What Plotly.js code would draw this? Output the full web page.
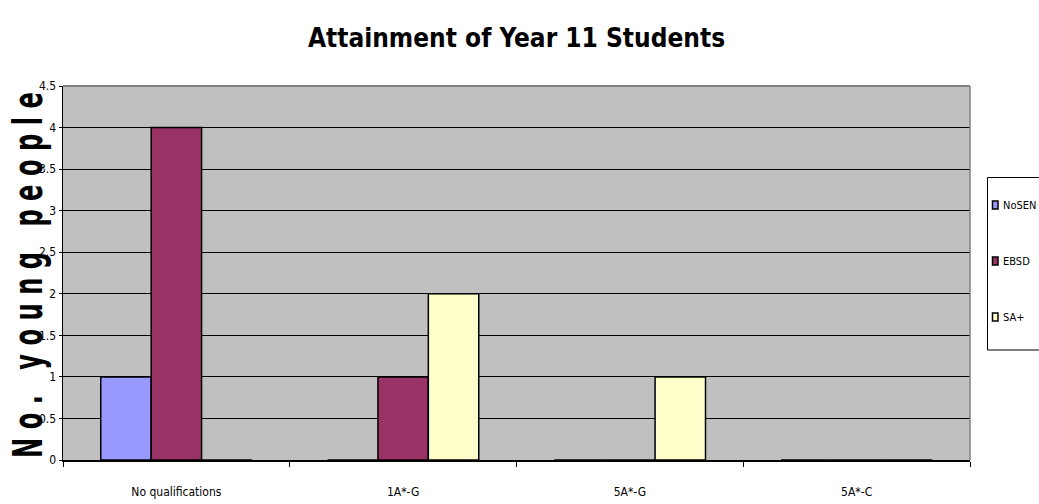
<!DOCTYPE html>
<html>
<head>
<meta charset="utf-8">
<script src="https://cdn.plot.ly/plotly-3.0.1.min.js"></script>
<style>
  html, body { margin: 0; padding: 0; background: #ffffff; overflow: hidden; }
  #chart { width: 1039px; height: 504px; }
</style>
</head>
<body>
<div id="chart"></div>
<script>
// Year 11 attainment by SEN group
const categories = ["No qualifications", "1A*-G", "5A*-G", "5A*-C"];
const noSen = [1, 0, 0, 0];
const ebsd = [4, 1, 0, 0];
const saPlus = [0, 2, 1, 0];
const seriesNames = ["NoSEN", "EBSD", "SA+"];
const seriesColors = ["#9999FF", "#993366", "#FFFFCC"];
const yTicks = [0, 0.5, 1, 1.5, 2, 2.5, 3, 3.5, 4, 4.5];

const FONT = '"DejaVu Sans Condensed", "Liberation Sans Narrow", "Arial Narrow", sans-serif';

// Plot-area geometry (pixels) used to place the hand-built legend
const W = 1039, H = 504;
const M = { l: 63, r: 69, t: 86, b: 44 };
const plotW = W - M.l - M.r;
const plotH = H - M.t - M.b;
const px = v => (v - M.l) / plotW;
const py = v => (H - M.b - v) / plotH;

const seriesValues = [noSen, ebsd, saPlus];
const traces = seriesValues.map((vals, i) => ({
  type: "bar",
  name: seriesNames[i],
  x: categories,
  y: vals,
  showlegend: false,
  marker: { color: seriesColors[i], line: { color: "#000000", width: 1.5 } }
}));

// Legend: framed box with small swatches, partly running off the right edge
const legendRows = [205, 261, 317];
const shapes = [
  // grey frame on the top and right of the plot area
  { type: "line", xref: "paper", yref: "paper", x0: 0, x1: 1, y0: 1, y1: 1,
    line: { color: "#808080", width: 2 } },
  { type: "line", xref: "paper", yref: "paper", x0: 1, x1: 1, y0: 0, y1: 1,
    line: { color: "#808080", width: 1.5 } },
  // legend box
  { type: "rect", xref: "paper", yref: "paper",
    x0: px(987.5), x1: px(1060), y0: py(350), y1: py(177.5),
    fillcolor: "#ffffff", line: { color: "#000000", width: 1 } }
];
const annotations = [
  {
    text: "N o .   y o u n g   p e o p l e",
    textangle: -90,
    xref: "paper", yref: "paper",
    x: px(28), y: py(275),
    xanchor: "center", yanchor: "middle",
    showarrow: false,
    font: { family: FONT, size: 40, color: "#000000", weight: "bold" }
  }
];
seriesNames.forEach((name, i) => {
  const yc = legendRows[i];
  shapes.push({
    type: "rect", xref: "paper", yref: "paper",
    x0: px(992.5), x1: px(998), y0: py(yc + 4), y1: py(yc - 4),
    fillcolor: seriesColors[i], line: { color: "#000000", width: 1.5 }
  });
  annotations.push({
    text: name,
    xref: "paper", yref: "paper",
    x: px(1001), y: py(yc),
    xanchor: "left", yanchor: "middle",
    showarrow: false,
    font: { family: FONT, size: 11, color: "#000000" }
  });
});

const layout = {
  width: W,
  height: H,
  margin: { l: M.l, r: M.r, t: M.t, b: M.b, autoexpand: false },
  paper_bgcolor: "#ffffff",
  plot_bgcolor: "#C0C0C0",
  barmode: "group",
  bargap: 0.333,
  bargroupgap: 0,
  showlegend: false,
  font: { family: FONT, color: "#000000", size: 12 },
  title: {
    text: "Attainment of Year 11 Students",
    font: { family: FONT, size: 26, color: "#000000", weight: "bold" },
    x: 0.5,
    xanchor: "center",
    xref: "paper",
    y: 1 - 38 / H,
    yanchor: "middle"
  },
  xaxis: {
    type: "category",
    tickson: "boundaries",
    ticks: "outside",
    ticklen: 5,
    tickcolor: "#000000",
    showline: true,
    linecolor: "#000000",
    linewidth: 1.5,
    showgrid: false,
    tickfont: { family: FONT, size: 12, color: "#000000" },
    ticklabelstandoff: 20,
    fixedrange: true
  },
  yaxis: {
    range: [0, 4.5],
    tickvals: yTicks,
    ticktext: yTicks.map(String),
    ticks: "outside",
    ticklen: 3,
    tickcolor: "#000000",
    showline: true,
    linecolor: "#000000",
    linewidth: 1.5,
    showgrid: true,
    gridcolor: "#000000",
    gridwidth: 1,
    zeroline: false,
    tickfont: { family: FONT, size: 12, color: "#000000" },
    fixedrange: true
  },
  shapes: shapes,
  annotations: annotations
};

Plotly.newPlot("chart", traces, layout, { displayModeBar: false, staticPlot: true }).then(gd => {
  // Squeeze the tall axis caption along its baseline so it fits the plot height
  const t = gd.querySelector(".annotation text.annotation-text");
  if (t) {
    const bb = t.getBBox();
    const cx = bb.x + bb.width / 2, cy = bb.y + bb.height / 2;
    const k = 366 / bb.width;
    t.setAttribute("transform",
      "translate(" + cx + " " + cy + ") scale(" + k + " 1) translate(" + (-cx) + " " + (-cy) + ")");
  }
});
</script>
</body>
</html>
